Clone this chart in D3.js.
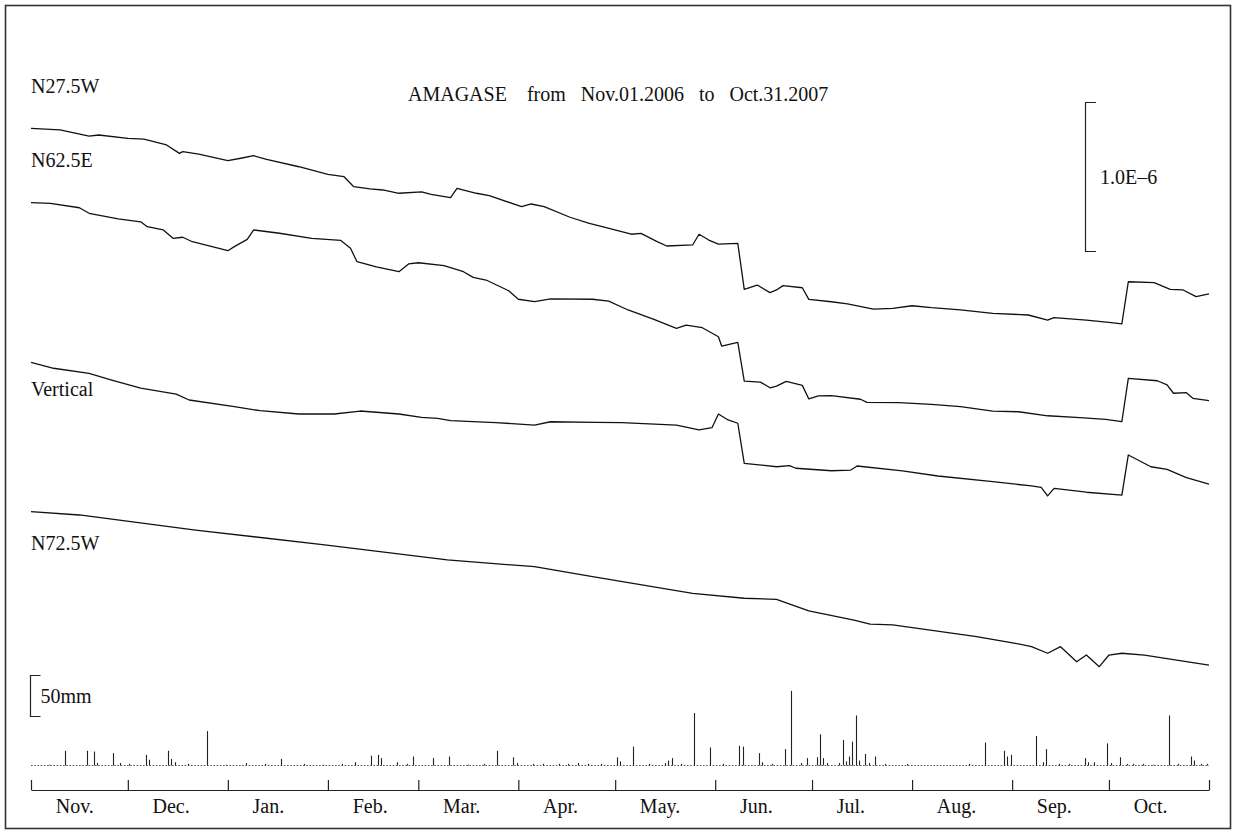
<!DOCTYPE html>
<html>
<head>
<meta charset="utf-8">
<script src="https://cdn.jsdelivr.net/npm/d3@7"></script>
<style>
  html, body { margin: 0; padding: 0; background: #fff; }
  svg text { font-family: "Liberation Serif", "Times New Roman", serif; fill: #111; }
</style>
</head>
<body>
<svg id="chart" width="1233" height="834"></svg>
<script>
// ---- Observation period -------------------------------------------------
const periodStart = new Date(2006, 10, 1);   // Nov. 01, 2006
const periodEnd   = new Date(2007, 10, 1);   // end of Oct. 31, 2007

// ---- Strain records (day offset from Nov.01.2006, strain in 1e-7) -------
const traceNames = ["N27.5W", "N62.5E", "Vertical", "N72.5W"];

const n275wDay = [0,6,9,18,21,30,35,42,46,47,52,61,65,69,73,83,92,97,100,105,109,114,121,124,130,132,138,142,152,155,159,167,173,177,186,189,194,197,205,207,210,213,219,221,225,229,231,233,239,241,248,253,261,267,273,279,288,298,309,315,317,327,334,338,340,348,353,357,361,365];
const n275wStrain = [0,-0.07,-0.11,-0.52,-0.45,-0.67,-0.72,-1.12,-1.68,-1.57,-1.74,-2.17,-2.01,-1.84,-2.08,-2.58,-3.09,-3.25,-3.92,-4.07,-4.14,-4.36,-4.26,-4.43,-4.66,-4.03,-4.36,-4.52,-5.26,-5.08,-5.26,-5.97,-6.38,-6.60,-7.11,-7.05,-7.61,-7.90,-7.83,-7.11,-7.50,-7.77,-7.72,-10.81,-10.52,-11.03,-10.85,-10.56,-10.70,-11.48,-11.64,-11.79,-12.13,-12.08,-11.91,-12.04,-12.19,-12.42,-12.53,-12.87,-12.71,-12.87,-13.02,-13.13,-10.30,-10.36,-10.81,-10.85,-11.30,-11.12];

const n625eDay = [0,6,15,18,27,34,36,41,44,47,50,61,63,67,69,77,87,96,99,101,107,114,117,120,128,134,137,141,148,151,156,161,174,179,185,193,200,203,208,213,214,219,221,226,229,231,234,239,241,244,248,257,259,269,279,288,298,306,315,325,333,338,340,349,352,354,358,360,365];
const n625eStrain = [0,-0.04,-0.34,-0.71,-1.09,-1.28,-1.61,-1.83,-2.39,-2.32,-2.62,-3.22,-2.95,-2.46,-1.83,-2.05,-2.39,-2.53,-3.06,-3.96,-4.30,-4.63,-4.11,-4.03,-4.23,-4.63,-5.01,-5.19,-5.91,-6.48,-6.64,-6.46,-6.48,-6.60,-7.20,-7.83,-8.43,-8.21,-8.39,-9.00,-9.62,-9.37,-11.97,-12.04,-12.42,-12.31,-11.99,-12.26,-13.17,-12.97,-12.95,-13.19,-13.40,-13.42,-13.53,-13.69,-13.99,-14.03,-14.30,-14.43,-14.54,-14.70,-11.79,-11.95,-12.23,-12.79,-12.75,-13.13,-13.29];

const verticalDay = [0,7,18,25,34,45,49,63,71,83,94,102,114,121,126,130,144,156,161,175,183,200,207,211,213,216,219,221,231,235,237,248,254,256,270,281,298,310,313,315,317,327,338,340,347,352,358,365];
const verticalStrain = [0,-0.40,-0.74,-1.19,-1.74,-2.13,-2.53,-2.98,-3.25,-3.47,-3.47,-3.27,-3.47,-3.69,-3.76,-3.92,-4.05,-4.21,-3.99,-4.03,-4.05,-4.21,-4.54,-4.39,-3.47,-3.87,-4.09,-6.78,-7.01,-6.94,-7.11,-7.28,-7.23,-6.96,-7.28,-7.63,-8.01,-8.30,-8.39,-8.97,-8.46,-8.72,-8.91,-6.22,-7.01,-7.18,-7.74,-8.17];

const n725wDay = [0,15,51,91,129,156,174,205,221,231,241,255,260,267,293,305,310,315,319,324,327,331,334,338,345,365];
const n725wStrain = [0,-0.22,-1.23,-2.23,-3.24,-3.69,-4.36,-5.48,-5.81,-5.88,-6.66,-7.27,-7.54,-7.60,-8.39,-8.83,-9.06,-9.50,-9.06,-10.07,-9.62,-10.40,-9.62,-9.50,-9.62,-10.30];

// ---- Daily rainfall (day offset from Nov.01.2006, mm) -------------------
const rainDay = [5,10,17,19,20,25,27,30,35,36,42,43,44,48,54,60,66,72,77,84,90,96,100,105,107,108,113,116,118,124,129,135,140,144,149,150,155,158,163,166,169,172,176,181,182,186,191,196,197,198,201,205,210,214,219,220,225,226,229,233,235,238,240,243,244,245,246,250,251,252,253,254,255,256,258,259,261,264,271,290,295,301,302,303,311,313,314,318,321,326,327,329,333,334,337,339,341,344,347,352,355,359,360,362,364];
const rainMm  = [1,18,18,17,3,15,3,2,13,7,18,8,4,2,42,1,3,2,8,2,1,2,4,12,13,9,4,2,11,9,11,1,2,18,10,3,2,2,2,2,3,2,2,10,5,23,2,3,6,9,2,64,22,2,24,23,15,4,2,20,91,3,9,10,38,9,3,3,31,5,11,29,61,6,14,3,11,2,2,2,28,18,11,13,36,4,20,2,2,9,4,4,27,3,10,2,2,2,1,61,2,11,6,2,2];

// ---- Axis text ----------------------------------------------------------
const monthLabels = ["Nov.","Dec.","Jan.","Feb.","Mar.","Apr.","May.","Jun.","Jul.","Aug.","Sep.","Oct."];
const titleText = "AMAGASE    from   Nov.01.2006   to   Oct.31.2007";
const strainScaleLabel = "1.0E\u20136";
const rainScaleLabel = "50mm";
const strainScaleValue = 10;   // 1.0E-6 expressed in 1e-7 units
const rainScaleValue = 50;     // mm

// ---- Layout -------------------------------------------------------------
const W = 1233, H = 834;
const plotLeft = 31, plotRight = 1209;
const traceAnchor = [128.3, 202.7, 362.3, 511.7];   // vertical placement of each trace's zero
const labelBaseline = [93, 167, 396, 550];
const rainBase = 765.5;
const axisY = 790;
const ink = "#111";

const svg = d3.select("#chart");
svg.append("rect").attr("x", 0).attr("y", 0).attr("width", W).attr("height", H).attr("fill", "#fff");
svg.append("rect")
  .attr("x", 5.5).attr("y", 5.5).attr("width", 1225).attr("height", 823)
  .attr("fill", "none").attr("stroke", "#333").attr("stroke-width", 1.6);

const x = d3.scaleTime().domain([periodStart, periodEnd]).range([plotLeft, plotRight]);
const dayDate = d => d3.timeHour.offset(periodStart, d * 24);

// strain (1e-7) -> vertical offset in px; 1.0E-6 spans 149 px
const y = d3.scaleLinear().domain([0, -strainScaleValue]).range([0, 149]);
// rainfall mm -> bar height in px; 50 mm spans 41 px
const r = d3.scaleLinear().domain([0, rainScaleValue]).range([0, 41]);

// ---- Strain traces ------------------------------------------------------
const traces = [
  { days: n275wDay,    vals: n275wStrain },
  { days: n625eDay,    vals: n625eStrain },
  { days: verticalDay, vals: verticalStrain },
  { days: n725wDay,    vals: n725wStrain }
];

const line = d3.line().x(d => x(dayDate(d[0]))).y(d => y(d[1]));

traces.forEach((t, i) => {
  const g = svg.append("g").attr("transform", `translate(0,${traceAnchor[i]})`);
  g.append("path")
    .datum(t.days.map((d, k) => [d, t.vals[k]]))
    .attr("d", line)
    .attr("fill", "none")
    .attr("stroke", ink)
    .attr("stroke-width", 1.3)
    .attr("stroke-linejoin", "round");
  svg.append("text")
    .attr("x", plotLeft).attr("y", labelBaseline[i])
    .attr("font-size", 20)
    .text(traceNames[i]);
});

// ---- Title --------------------------------------------------------------
svg.append("text")
  .attr("x", 408).attr("y", 101)
  .attr("font-size", 20)
  .attr("xml:space", "preserve")
  .style("white-space", "pre")
  .text(titleText);

// ---- Strain scale bar ---------------------------------------------------
const sbTop = 102;
const sbLen = y(-strainScaleValue) - y(0);
svg.append("path")
  .attr("d", `M1096,${sbTop + 0.5}H1085.5V${sbTop + sbLen + 0.5}H1096`)
  .attr("fill", "none").attr("stroke", "#222").attr("stroke-width", 1.2);
svg.append("text")
  .attr("x", 1100).attr("y", sbTop + sbLen / 2 + 7)
  .attr("font-size", 20)
  .text(strainScaleLabel);

// ---- Rainfall -----------------------------------------------------------
const rbTop = 675;
const rbLen = r(rainScaleValue);
svg.append("path")
  .attr("d", `M40.5,${rbTop + 0.5}H30.5V${rbTop + rbLen + 0.5}H40.5`)
  .attr("fill", "none").attr("stroke", "#222").attr("stroke-width", 1.2);
svg.append("text")
  .attr("x", 40.5).attr("y", rbTop + rbLen / 2 + 7)
  .attr("font-size", 20)
  .text(rainScaleLabel);

svg.append("line")
  .attr("x1", plotLeft).attr("x2", plotRight)
  .attr("y1", rainBase).attr("y2", rainBase)
  .attr("stroke", "#555").attr("stroke-width", 1)
  .attr("stroke-dasharray", "1.6,1.6");

svg.append("g").selectAll("line")
  .data(rainDay.map((d, k) => [d, rainMm[k]]))
  .join("line")
  .attr("x1", d => Math.round(x(dayDate(d[0] + 0.5))) + 0.5)
  .attr("x2", d => Math.round(x(dayDate(d[0] + 0.5))) + 0.5)
  .attr("y1", rainBase)
  .attr("y2", d => rainBase - r(d[1]))
  .attr("stroke", "#222")
  .attr("stroke-width", 1.1);

// ---- Time axis ----------------------------------------------------------
const monthStarts = d3.timeMonth.range(periodStart, d3.timeDay.offset(periodEnd, 1));
const axisG = svg.append("g")
  .attr("transform", `translate(0,${axisY})`)
  .call(d3.axisBottom(x).tickValues(monthStarts).tickSizeInner(-10).tickSizeOuter(0).tickFormat(""));
axisG.selectAll("path, line").attr("stroke", "#222").attr("stroke-width", 1.2);

const labelG = svg.append("g")
  .attr("transform", `translate(0,${axisY})`)
  .call(d3.axisBottom(x)
    .tickValues(monthStarts.slice(0, 12).map(m => d3.timeHour.offset(m, 7.5 * 24)))
    .tickSize(0).tickPadding(9)
    .tickFormat((d, i) => monthLabels[i]));
labelG.select(".domain").remove();
labelG.attr("font-family", null).attr("font-size", 20);
labelG.selectAll("text").attr("text-anchor", "start").attr("fill", "#111");
</script>
</body>
</html>
